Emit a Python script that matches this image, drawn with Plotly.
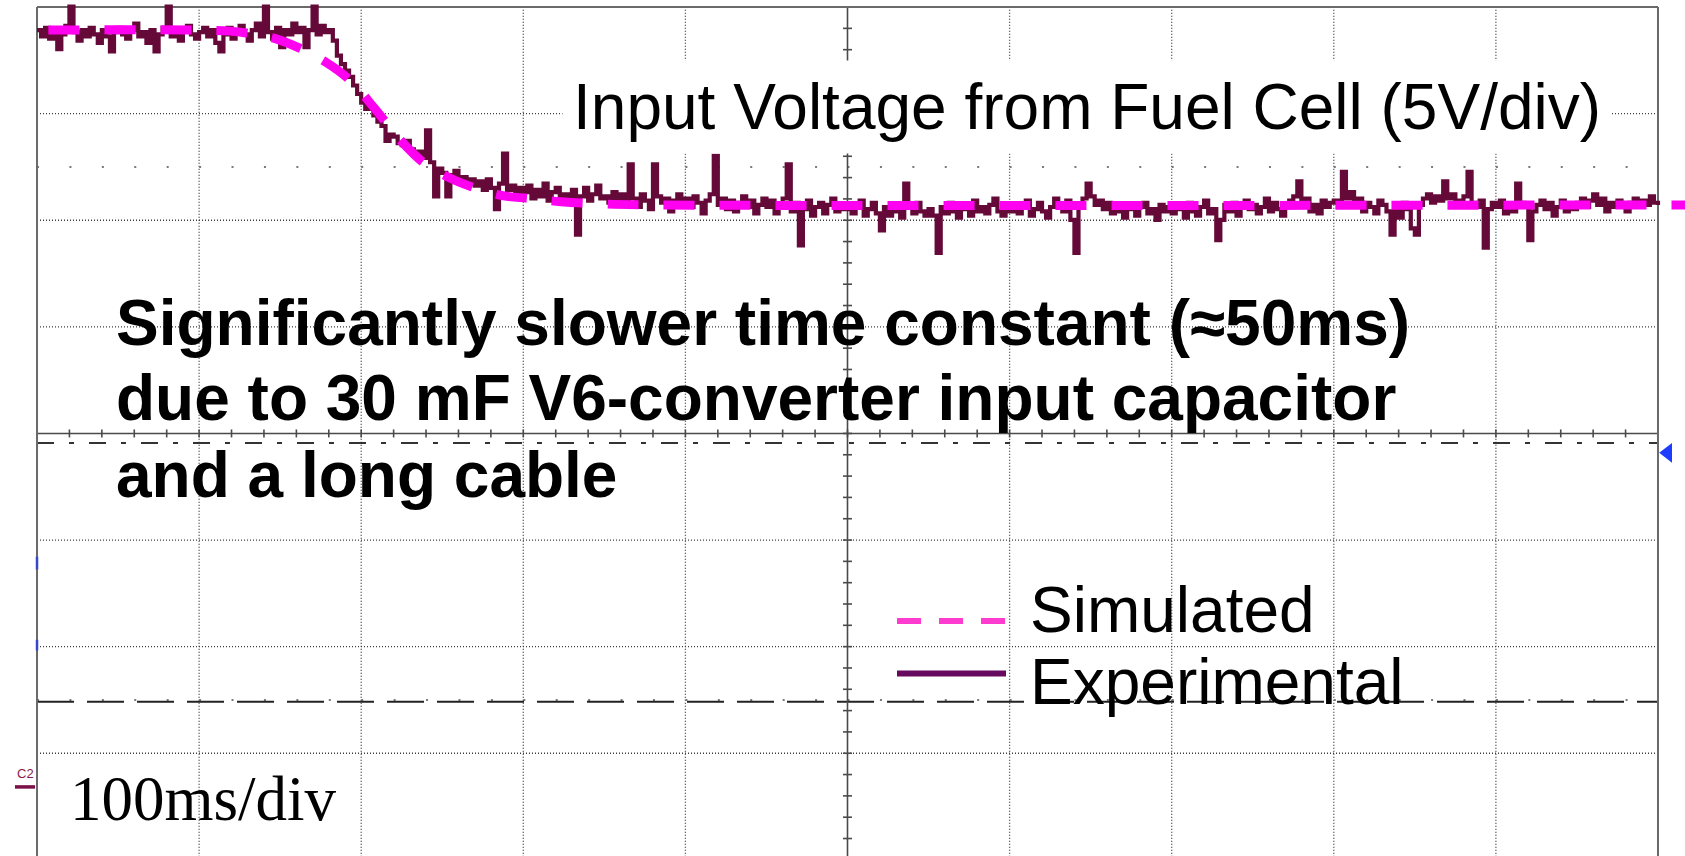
import plotly.graph_objects as go

# ---------------- Data read from the oscilloscope capture ----------------
# Horizontal: 100 ms/div, vertical: 5 V/div (channel C2, ground at 0 V)
SAMPLE_MS = 2.5  # spacing of the experimental samples

exp_volts = [
    35.5, 35.2, 35.6, 35.1, 35.4, 34.6, 35.3, 35.7, 36.6, 35.4, 35.0, 35.5, 35.2, 35.6, 35.3, 34.9, 35.5, 35.2, 34.5, 35.4,
    35.6, 35.3, 35.1, 35.5, 35.8, 35.2, 35.4, 34.9, 35.5, 34.5, 35.3, 35.6, 36.6, 35.2, 35.4, 35.0, 35.5, 35.7, 35.3, 35.1,
    35.4, 35.6, 35.2, 35.5, 34.9, 34.5, 35.3, 35.6, 35.1, 35.4, 35.7, 35.3, 35.0, 35.5, 35.8, 35.2, 36.6, 35.4, 35.1, 35.6,
    34.7, 35.5, 35.3, 35.8, 35.4, 35.6, 34.7, 35.5, 36.6, 35.3, 35.7, 35.4, 35.5, 35.0, 34.3, 33.9, 33.6, 33.3, 32.9, 32.5,
    32.1, 31.8, 31.9, 31.5, 31.2, 31.0, 30.3, 30.6, 30.5, 30.2, 30.1, 30.3, 29.9, 29.7, 29.8, 29.5, 30.8, 29.3, 27.7, 29.0,
    28.8, 27.7, 28.7, 28.9, 28.5, 28.6, 28.3, 28.5, 28.2, 28.4, 28.0, 28.5, 28.1, 27.1, 28.3, 29.7, 28.0, 28.2, 27.8, 28.1,
    27.9, 28.2, 27.6, 28.0, 27.7, 28.3, 27.5, 27.9, 28.1, 27.6, 27.8, 27.4, 28.0, 25.9, 27.7, 28.1, 27.5, 27.8, 28.2, 27.6,
    27.7, 27.4, 27.9, 27.5, 27.8, 27.3, 29.2, 27.6, 27.2, 27.8, 27.5, 27.1, 29.2, 27.7, 27.4, 27.6, 27.0, 27.5, 27.8, 27.3,
    27.6, 27.2, 27.7, 27.4, 26.9, 27.5, 27.8, 29.6, 27.3, 27.6, 27.1, 27.5, 27.0, 27.4, 27.7, 27.2, 27.5, 26.9, 27.3, 27.6,
    27.2, 27.5, 26.9, 27.3, 27.6, 29.2, 27.0, 27.4, 25.4, 27.1, 27.5, 26.8, 27.2, 27.4, 26.9, 27.3, 27.6, 27.0, 27.3, 27.1,
    27.3, 26.9, 27.2, 27.5, 26.8, 27.1, 27.4, 26.9, 26.1, 27.2, 26.8, 27.3, 27.0, 26.7, 28.3, 27.2, 26.9, 27.4, 27.0, 26.8,
    27.1, 26.8, 25.05, 27.2, 26.9, 27.4, 27.0, 26.7, 27.3, 27.1, 26.8, 27.5, 27.0, 27.2, 26.9, 27.3, 27.6, 27.0, 26.8, 27.2,
    27.0, 27.3, 26.9, 27.2, 27.5, 26.8, 27.1, 27.4, 27.0, 26.7, 27.2, 27.6, 27.3, 27.0, 27.5, 26.6, 25.05, 27.2, 27.6, 28.3,
    27.7, 27.3, 27.5, 27.1, 27.4, 26.9, 27.2, 27.0, 26.7, 27.3, 27.1, 26.8, 27.2, 27.4, 26.9, 27.1, 26.6, 27.3, 27.0, 27.2,
    26.9, 27.3, 27.1, 26.7, 27.4, 27.0, 26.8, 27.2, 27.5, 26.9, 27.1, 25.65, 26.6, 27.3, 27.0, 27.4, 26.8, 27.2, 27.5, 27.1,
    27.3, 26.9, 27.2, 27.6, 27.0, 27.4, 27.1, 26.8, 27.3, 27.5, 27.7, 28.4, 27.2, 27.6, 27.0, 27.3, 26.9, 27.5, 27.2, 27.4,
    27.5, 27.2, 28.85, 27.6, 27.9, 27.3, 27.6, 27.0, 27.4, 27.2, 26.9, 27.5, 27.3, 27.0, 25.9, 27.2, 26.7, 27.4, 27.1, 26.2,
    25.9, 27.3, 27.6, 27.8, 27.4, 27.7, 27.5, 28.4, 27.6, 27.8, 27.3, 27.5, 27.7, 28.85, 27.4, 27.2, 27.5, 25.3, 27.1, 27.4,
    27.2, 27.5, 26.9, 27.3, 27.0, 28.3, 27.4, 27.2, 25.65, 27.0, 27.3, 27.5, 27.1, 27.4, 26.8, 27.2, 27.5, 27.0, 27.3, 27.1,
    27.4, 27.6, 27.2, 27.5, 27.8, 27.3, 27.6, 27.0, 27.4, 27.2, 27.5, 27.3, 27.0, 27.4, 27.6, 27.2, 27.5, 27.3, 27.7, 27.4,
    27.3,
]
exp_time_ms = [i * SAMPLE_MS for i in range(len(exp_volts))]

sim_time_ms = [7, 100, 119, 134, 147, 162, 178, 193, 208, 224, 239, 255, 270, 286, 304, 323, 347, 378, 1017]
sim_volts = [35.5, 35.5, 35.45, 35.3, 35.1, 34.65, 34.0, 33.15, 31.85, 30.35, 29.25, 28.55, 28.1, 27.75,
             27.6, 27.45, 27.35, 27.3, 27.3]

trigger_time_ms = [1006]
trigger_volts = [15.67]

# ---------------- Graticule definition ----------------
MS_PER_DIV = 100
X_DIVS = 10
V_PER_DIV = 5
Y_DIVS = 8
V_CENTER = 16.58          # centre graticule line (volts)
LEVEL_V = 16.13           # dash-dot level line
CURSOR_V = 3.99           # dashed cursor line
T_END = MS_PER_DIV * X_DIVS
V_TOP = V_CENTER + V_PER_DIV * Y_DIVS / 2
V_BOT = V_CENTER - V_PER_DIV * Y_DIVS / 2

W, H = 1685, 856
X_RANGE = [-22.83, 1016.66]
Y_RANGE = [-3.24, 36.91]
MS_PER_PX = (X_RANGE[1] - X_RANGE[0]) / W
V_PER_PX = (Y_RANGE[1] - Y_RANGE[0]) / H


def pxx(x):
    return x / W


def pxy(y):
    return 1 - y / H


SANS = "Liberation Sans, Arial, sans-serif"
SERIF = "Liberation Serif, Times New Roman, serif"

shapes = []
GRID = dict(color="#3c3c3c", width=1.3, dash="1px,2px")

# dotted division lines
for k in range(1, X_DIVS):
    if k == X_DIVS // 2:
        continue
    t = k * MS_PER_DIV
    shapes.append(dict(type="line", xref="x", yref="y", x0=t, x1=t, y0=V_BOT, y1=V_TOP,
                       line=GRID, layer="below"))
for k in range(-Y_DIVS // 2 + 1, Y_DIVS // 2):
    if k == 0:
        continue
    v = V_CENTER + k * V_PER_DIV
    shapes.append(dict(type="line", xref="x", yref="y", x0=0, x1=T_END, y0=v, y1=v,
                       line=GRID, layer="below"))

# half-division dot rows
for k in (2.5, -2.5):
    v = V_CENTER + k * V_PER_DIV
    shapes.append(dict(type="line", xref="x", yref="y", x0=0, x1=T_END, y0=v, y1=v,
                       line=dict(color="#7a7a7a", width=2, dash="2px,30.42px"), layer="below"))

# level lines
shapes.append(dict(type="line", xref="x", yref="y", x0=0, x1=T_END, y0=LEVEL_V, y1=LEVEL_V,
                   line=dict(color="#333333", width=2, dash="17px,15px,5px,15px"), layer="below"))
shapes.append(dict(type="line", xref="x", yref="y", x0=0, x1=T_END, y0=CURSOR_V, y1=CURSOR_V,
                   line=dict(color="#222222", width=2, dash="37px,13px"), layer="below"))

# centre axes with minor ticks
AX = dict(color="#4a4a4a", width=1.6)
shapes.append(dict(type="line", xref="x", yref="y", x0=0, x1=T_END, y0=V_CENTER, y1=V_CENTER,
                   line=AX, layer="below"))
shapes.append(dict(type="line", xref="x", yref="y", x0=T_END / 2, x1=T_END / 2, y0=V_BOT, y1=V_TOP,
                   line=AX, layer="below"))
tick_v = 4 * V_PER_PX
tick_t = 4.5 * MS_PER_PX
for k in range(1, X_DIVS * 5):
    t = k * MS_PER_DIV / 5
    shapes.append(dict(type="line", xref="x", yref="y", x0=t, x1=t,
                       y0=V_CENTER - tick_v, y1=V_CENTER + tick_v, line=AX, layer="below"))
for k in range(-Y_DIVS // 2 * 5 + 1, Y_DIVS // 2 * 5):
    v = V_CENTER + k * V_PER_DIV / 5
    shapes.append(dict(type="line", xref="x", yref="y", x0=T_END / 2 - tick_t, x1=T_END / 2 + tick_t,
                       y0=v, y1=v, line=AX, layer="below"))

# border
BORDER = dict(color="#6a6a6a", width=2)
shapes.append(dict(type="line", xref="x", yref="y", x0=0, x1=0, y0=Y_RANGE[0], y1=V_TOP, line=BORDER, layer="below"))
shapes.append(dict(type="line", xref="x", yref="y", x0=T_END, x1=T_END, y0=Y_RANGE[0], y1=V_TOP, line=BORDER, layer="below"))
shapes.append(dict(type="line", xref="x", yref="y", x0=0, x1=T_END, y0=V_TOP, y1=V_TOP, line=BORDER, layer="below"))

# blue channel marks on the left border
for v0, v1 in ((10.2, 10.8), (6.4, 6.9)):
    shapes.append(dict(type="line", xref="x", yref="y", x0=0, x1=0, y0=v0, y1=v1,
                       line=dict(color="#3848c8", width=2.5), layer="below"))

# C2 ground marker
shapes.append(dict(type="line", xref="x", yref="y", x0=-13.6, x1=-1.2, y0=0, y1=0,
                   line=dict(color="#7a1045", width=3.5), layer="below"))

# white text boxes (cover graticule)
shapes.append(dict(type="rect", xref="paper", yref="paper", x0=pxx(1012), x1=pxx(1422),
                   y0=pxy(735), y1=pxy(550), fillcolor="white", line=dict(width=0), layer="below"))
shapes.append(dict(type="rect", xref="paper", yref="paper", x0=pxx(47), x1=pxx(358),
                   y0=pxy(845), y1=pxy(745), fillcolor="white", line=dict(width=0), layer="below"))

# legend lines
shapes.append(dict(type="line", xref="paper", yref="paper", x0=pxx(897), x1=pxx(1006),
                   y0=pxy(621), y1=pxy(621), line=dict(color="#ff3ccf", width=6, dash="24px,18px")))
shapes.append(dict(type="line", xref="paper", yref="paper", x0=pxx(897), x1=pxx(1006),
                   y0=pxy(673.5), y1=pxy(673.5), line=dict(color="#660a60", width=6)))

fig = go.Figure()
fig.add_trace(go.Scatter(x=exp_time_ms, y=exp_volts, mode="lines", line_shape="hv",
                         line=dict(color="#650a38", width=4.2), name="Experimental",
                         hoverinfo="skip"))
fig.add_trace(go.Scatter(x=sim_time_ms, y=sim_volts, mode="lines", line_shape="spline",
                         line=dict(color="#ff00f0", width=9, dash="31px,25px"), name="Simulated",
                         hoverinfo="skip"))
fig.add_trace(go.Scatter(x=trigger_time_ms, y=trigger_volts, mode="markers",
                         marker=dict(symbol="triangle-left", size=17, color="#1e3cff"),
                         hoverinfo="skip", cliponaxis=False))

annotations = [
    dict(text="Input Voltage from Fuel Cell (5V/div)", xref="paper", yref="paper",
         x=pxx(562), y=pxy(107.5), xanchor="left", yanchor="middle", showarrow=False,
         bgcolor="white", borderpad=10, font=dict(family=SANS, size=64, color="black")),
    dict(text="<b>Significantly slower time constant (≈50ms)</b>", xref="paper", yref="paper",
         x=pxx(115), y=pxy(322.8), xanchor="left", yanchor="middle", showarrow=False,
         borderpad=0, font=dict(family=SANS, size=64, color="black")),
    dict(text="<b>due to 30 mF V6-converter input capacitor</b>", xref="paper", yref="paper",
         x=pxx(115), y=pxy(397.8), xanchor="left", yanchor="middle", showarrow=False,
         borderpad=0, font=dict(family=SANS, size=64, color="black")),
    dict(text="<b>and a long cable</b>", xref="paper", yref="paper",
         x=pxx(115), y=pxy(474.8), xanchor="left", yanchor="middle", showarrow=False,
         borderpad=0, font=dict(family=SANS, size=64, color="black")),
    dict(text="Simulated", xref="paper", yref="paper",
         x=pxx(1029), y=pxy(609.8), xanchor="left", yanchor="middle", showarrow=False,
         borderpad=0, font=dict(family=SANS, size=64, color="black")),
    dict(text="Experimental", xref="paper", yref="paper",
         x=pxx(1029), y=pxy(681.8), xanchor="left", yanchor="middle", showarrow=False,
         borderpad=0, font=dict(family=SANS, size=64, color="black")),
    dict(text="100ms/div", xref="paper", yref="paper",
         x=pxx(69), y=pxy(798.8), xanchor="left", yanchor="middle", showarrow=False,
         borderpad=0, font=dict(family=SERIF, size=63, color="black")),
    dict(text="C2", xref="paper", yref="paper",
         x=pxx(25), y=pxy(773), xanchor="center", yanchor="middle", showarrow=False,
         borderpad=0, font=dict(family=SANS, size=13, color="#8b1a4a")),
]

fig.update_layout(
    width=W, height=H, autosize=False,
    margin=dict(l=0, r=0, t=0, b=0, pad=0),
    paper_bgcolor="white", plot_bgcolor="white",
    showlegend=False,
    xaxis=dict(range=X_RANGE, visible=False, showgrid=False, zeroline=False, fixedrange=True),
    yaxis=dict(range=Y_RANGE, visible=False, showgrid=False, zeroline=False, fixedrange=True),
    shapes=shapes,
    annotations=annotations,
)

fig.write_html("out.html", config={"displayModeBar": False})
